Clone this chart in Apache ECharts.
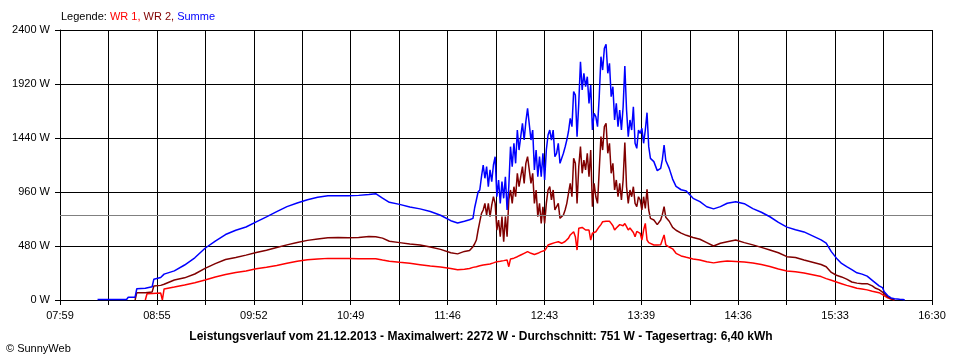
<!DOCTYPE html>
<html><head><meta charset="utf-8">
<script src="https://cdn.jsdelivr.net/npm/echarts/dist/echarts.min.js"></script>
<style>html,body{margin:0;padding:0;background:#fff}#c{width:960px;height:360px}</style>
</head><body><div id="c"></div>
<script>
// time axis: minutes since midnight, 07:59 .. 16:30
const START = 479;
const END = 990;
const STEPS = 18;
const xLabels = ['07:59','08:55','09:52','10:49','11:46','12:43','13:39','14:36','15:33','16:30'];
const yMax = 2400;
const yStep = 480;
const average = 751;
const legendParts = ['Legende: ', 'WR 1, ', 'WR 2, ', 'Summe'];
const title = 'Leistungsverlauf vom 21.12.2013 - Maximalwert: 2272 W - Durchschnitt: 751 W - Tagesertrag: 6,40 kWh';
const copyright = '\u00A9 SunnyWeb';

const times = [
 501,518,519,523,524,529,530,533,534,538,539,
 540,546,552,558,564,570,576,582,588,594,600,606,612,618,624,630,636,642,648,654,660,664,668,672,678,684,690,696,702,708,712,716,719,
 720,721,722,723,724,725,726,727,728,729,730,731,732,733,734,735,736,737,738,739,
 740,741,742,743,744,745,746,747,748,749,750,751,752,753,754,755,756,757,758,759,
 760,761,762,763,764,765,766,767,768,769,770,771,772,773,774,775,776,777,778,779,
 780,781,782,783,784,785,786,787,788,789,790,791,792,793,794,795,796,797,798,799,
 800,801,802,803,804,805,806,807,808,809,810,811,812,813,814,815,816,817,818,819,
 820,821,822,823,824,825,
 827,829,831,832,833,834,836,838,840,843,846,850,854,858,862,866,870,875,880,885,890,895,900,905,910,
 915,920,925,928,931,934,937,940,943,946,949,952,955,957,959,961,962,964,966,968,971,973,974
];

const summe = [
 5,5,25,25,100,105,110,118,185,200,210,
 230,259,311,375,460,524,582,620,649,695,739,785,830,862,891,914,927,927,927,930,938,945,905,868,850,826,810,786,753,705,684,700,713,
 715,726,820,889,960,978,1096,1200,1082,1185,1007,1156,1052,1200,1274,918,1067,859,1052,904,
 1096,800,1007,1363,1185,1393,1215,1511,1333,1452,1570,1422,1585,1704,1689,1422,1511,1156,1333,1096,
 1274,1096,1304,1067,1333,1467,1511,1422,1511,1274,1304,1393,1215,1260,1304,1360,1422,1500,1615,1541,
 1852,1822,1452,1748,2118,1867,2015,1896,1985,1748,1911,1511,1659,1630,1541,1807,2163,2044,2237,2272,
 2015,2104,1807,1896,1600,1748,1541,1689,1511,1718,2080,1689,1452,1600,1511,1718,1393,1348,1511,1481,
 1526,1393,1511,1665,1363,1259,
 1230,1150,1170,1250,1378,1240,1170,1075,1010,980,968,904,874,829,810,830,860,874,856,812,780,740,690,648,625,
 605,570,535,505,430,372,325,296,270,242,230,212,175,150,125,110,74,40,18,12,6,5,0
];

const wr2 = [
 null,null,null,0,65,65,68,72,125,130,132,
 140,178,197,231,281,323,360,378,399,422,443,466,490,511,530,543,553,556,553,555,565,562,550,522,510,498,489,472,450,420,410,432,440,
 455,474,500,533,620,696,770,800,859,755,859,741,844,918,859,622,711,563,741,518,
 741,563,889,978,859,1007,918,1126,1007,1096,1185,1037,1215,1274,1259,1037,1126,859,978,741,
 859,681,829,681,859,978,1007,889,978,800,800,859,726,740,755,800,859,950,1037,918,
 1259,1215,859,1185,1363,1126,1244,1156,1304,1096,1333,829,1037,918,859,1156,1452,1333,1541,1570,
 1304,1393,1126,1215,978,1067,918,1037,889,1067,1400,1007,859,978,918,1007,859,829,918,889,
 800,918,815,984,800,726,
 711,670,711,760,829,735,700,645,620,595,575,555,540,510,480,505,518,533,510,490,468,445,420,385,378,
 355,335,315,296,245,220,205,185,160,150,145,145,125,104,92,70,55,30,12,0,null,null,null
];

const wr1 = [
 null,null,null,null,null,0,55,58,60,62,0,
 98,115,133,153,178,204,226,245,257,278,291,307,326,345,358,365,370,370,369,367,367,367,355,345,335,326,314,302,293,280,268,274,280,
 285,290,293,296,300,304,307,311,313,316,318,320,325,330,334,341,330,345,338,350,
 345,356,296,365,360,372,378,385,390,400,395,415,425,430,420,415,410,405,408,415,
 420,430,425,440,460,489,495,500,504,510,515,518,510,504,515,520,533,550,578,590,
 607,563,444,637,652,645,635,622,622,622,533,593,600,607,620,652,670,696,690,700,
 711,700,681,660,622,640,652,670,681,660,680,652,622,640,652,600,563,610,622,593,
 533,622,681,533,510,504,
 489,489,492,498,578,489,470,455,415,392,380,365,356,340,330,341,347,343,337,328,315,298,275,258,252,
 240,225,208,190,175,160,145,130,118,104,98,90,78,72,65,48,40,20,8,0,null,null,null
];

const stepMin = (END - START) / STEPS;
function pts(vals) { return times.map((t, i) => [(t - START) / stepMin, vals[i]]); }

const FONT = '"Liberation Sans", Arial, sans-serif';
const chart = echarts.init(document.getElementById('c'), null, {renderer: 'canvas'});
chart.setOption({
  animation: false,
  backgroundColor: '#ffffff',
  grid: {left: 60, right: 28, top: 30, bottom: 60, containLabel: false},
  xAxis: {
    type: 'value', min: 0, max: STEPS, interval: 1,
    axisLine: {show: true, lineStyle: {color: '#000', width: 1}},
    axisTick: {show: true, length: 5, lineStyle: {color: '#000'}},
    axisLabel: {
      color: '#000', fontSize: 11, fontFamily: FONT, margin: 10,
      formatter: v => { const k = Math.round(v); return k % 2 === 0 ? xLabels[k / 2] : ''; }
    },
    splitLine: {show: true, lineStyle: {color: '#000', width: 1}}
  },
  yAxis: {
    type: 'value', min: 0, max: yMax, interval: yStep,
    axisLine: {show: true, lineStyle: {color: '#000', width: 1}},
    axisTick: {show: true, length: 5, lineStyle: {color: '#000'}},
    axisLabel: {color: '#000', fontSize: 11, fontFamily: FONT, margin: 10,
      formatter: v => String(Math.round(v)) + ' W'},
    splitLine: {show: true, lineStyle: {color: '#000', width: 1}}
  },
  series: [
    {name: 'WR 1', type: 'line', data: pts(wr1), showSymbol: false, connectNulls: false,
     lineStyle: {color: '#ff0000', width: 1.5}, itemStyle: {color: '#ff0000'}, z: 3,
     markLine: {silent: true, symbol: 'none', label: {show: false},
       lineStyle: {color: '#808080', type: 'solid', width: 1}, data: [{yAxis: average}]}},
    {name: 'WR 2', type: 'line', data: pts(wr2), showSymbol: false, connectNulls: false,
     lineStyle: {color: '#800000', width: 1.5}, itemStyle: {color: '#800000'}, z: 4},
    {name: 'Summe', type: 'line', data: pts(summe), showSymbol: false, connectNulls: false,
     lineStyle: {color: '#0000ff', width: 1.5}, itemStyle: {color: '#0000ff'}, z: 5}
  ],
  graphic: [
    {type: 'text', x: 61, y: 17, style: {
      text: '{k|' + legendParts[0] + '}{a|' + legendParts[1] + '}{b|' + legendParts[2] + '}{c|' + legendParts[3] + '}',
      textVerticalAlign: 'middle', font: '11px ' + FONT,
      rich: {
        k: {fill: '#000', fontSize: 11, fontFamily: FONT},
        a: {fill: '#ff0000', fontSize: 11, fontFamily: FONT},
        b: {fill: '#800000', fontSize: 11, fontFamily: FONT},
        c: {fill: '#0000ff', fontSize: 11, fontFamily: FONT}
      }}},
    {type: 'text', x: 481, y: 337, style: {text: title, textAlign: 'center', textVerticalAlign: 'middle',
      fill: '#000', font: 'bold 12px ' + FONT}},
    {type: 'text', x: 6, y: 349, style: {text: copyright, textVerticalAlign: 'middle',
      fill: '#000', font: '11px ' + FONT}}
  ]
});
</script>
</body></html>
